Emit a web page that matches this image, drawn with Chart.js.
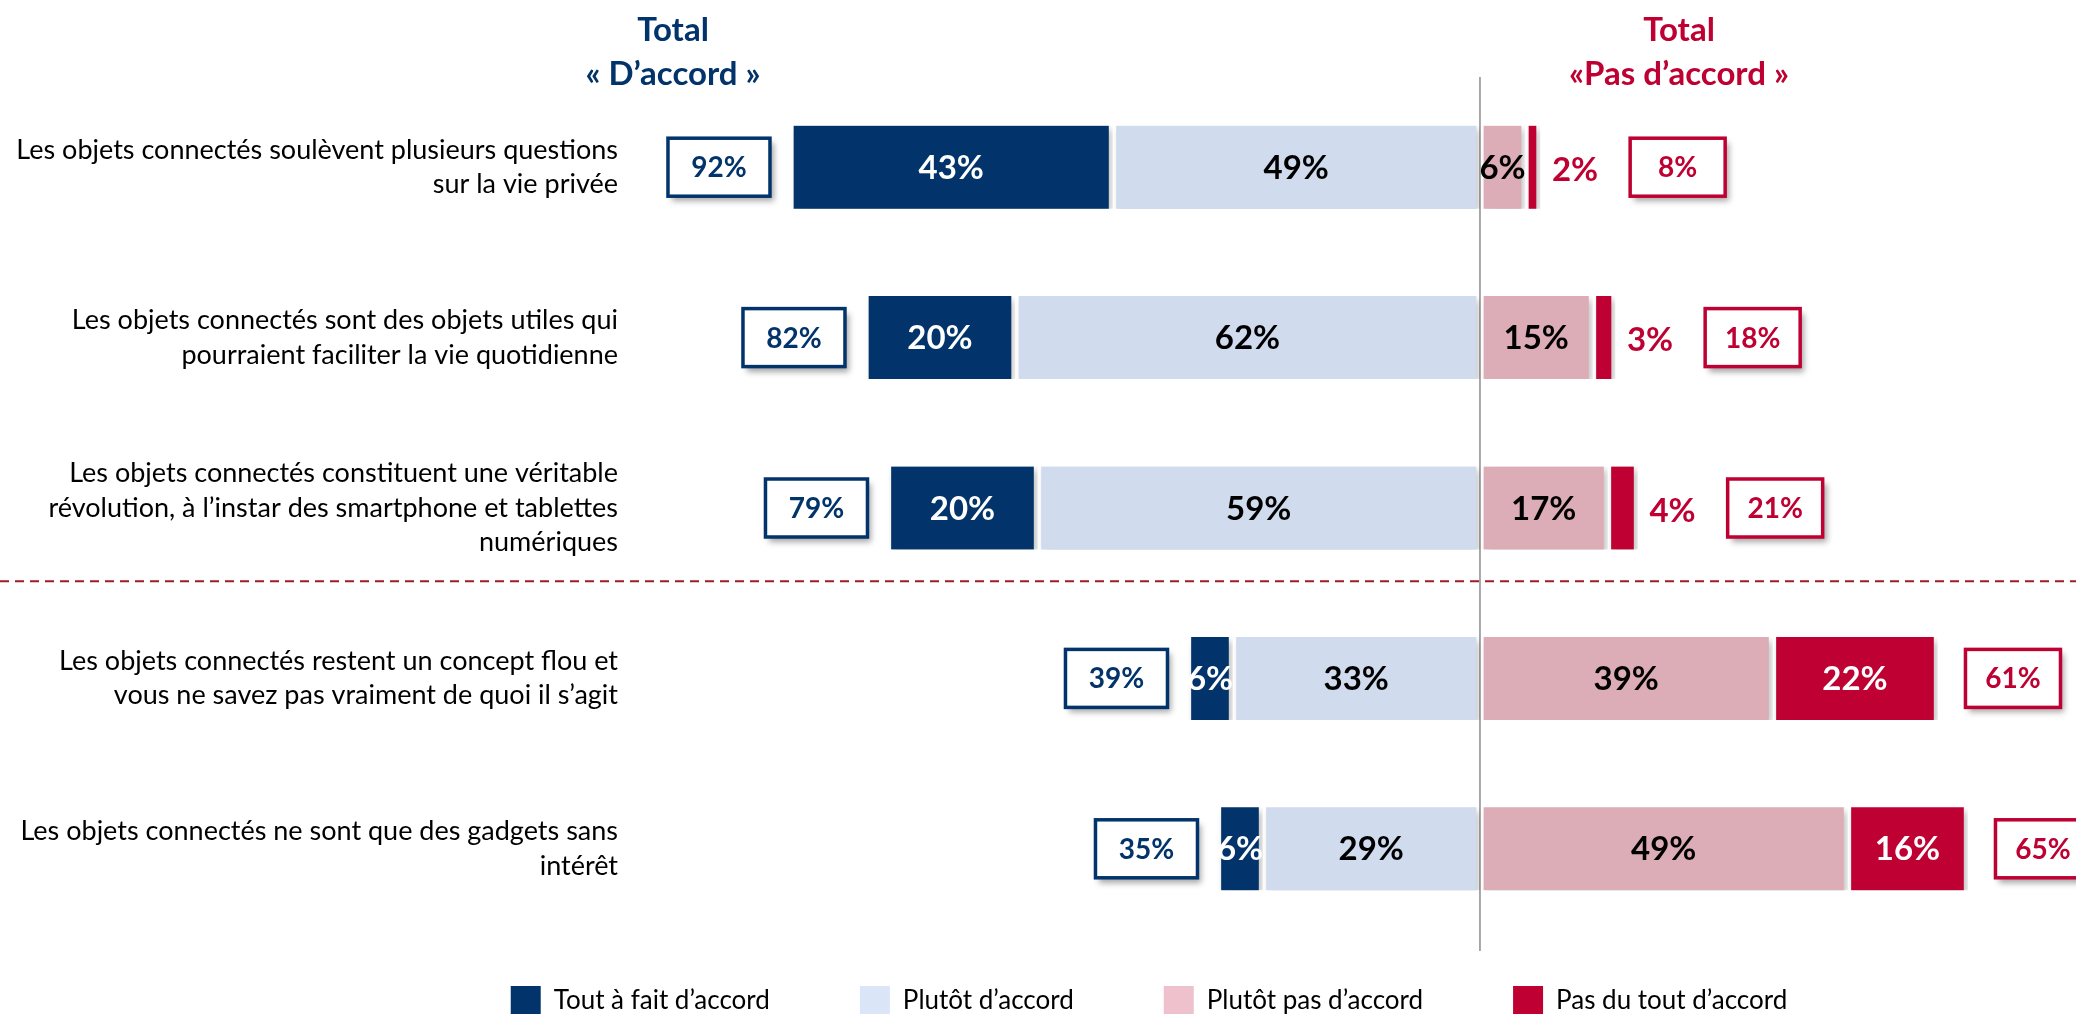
<!DOCTYPE html>
<html lang="fr">
<head>
<meta charset="utf-8">
<title>Objets connectés – accord / désaccord</title>
<script src="https://cdn.jsdelivr.net/npm/chart.js@4.4.1/dist/chart.umd.min.js"></script>
<style>
    html, body { margin: 0; padding: 0; background: #fff; }
    canvas { display: block; }
</style>
</head>
<body>
<canvas id="chart" width="2076" height="1014"></canvas>
<script>
// Statements (y axis)
const categories = [
    ['Les objets connectés soulèvent plusieurs questions', 'sur la vie privée'],
    ['Les objets connectés sont des objets utiles qui', 'pourraient faciliter la vie quotidienne'],
    ['Les objets connectés constituent une véritable', 'révolution, à l’instar des smartphone et tablettes', 'numériques'],
    ['Les objets connectés restent un concept flou et', 'vous ne savez pas vraiment de quoi il s’agit'],
    ['Les objets connectés ne sont que des gadgets sans', 'intérêt']
];

const seriesNames = ['Tout à fait d’accord', 'Plutôt d’accord', 'Plutôt pas d’accord', 'Pas du tout d’accord'];

// Percentages per answer
const toutAFait = [43, 20, 20, 6, 6];
const plutot = [49, 62, 59, 33, 29];
const plutotPas = [6, 15, 17, 39, 49];
const pasDuTout = [2, 3, 4, 22, 16];

// Totals shown in the boxes
const totalAccord = [92, 82, 79, 39, 35];
const totalPasAccord = [8, 18, 21, 61, 65];

const NAVY = '#02346B';
const LIGHT = '#D0DBEE';
const PINK = '#DCADB6';
const CRIMSON = '#BE0032';
const FONT = 'Lato, "Open Sans", sans-serif';

const barColors = [NAVY, LIGHT, PINK, CRIMSON];
const legendColors = [NAVY, '#DAE5F8', '#EFC1CC', CRIMSON];
const labelColors = ['#ffffff', '#000000', '#000000', '#ffffff'];

Chart.defaults.font.family = FONT;

function drawTotalBox(ctx, x, y, w, h, color, text) {
    ctx.save();
    ctx.shadowColor = 'rgba(0,0,0,0.35)';
    ctx.shadowBlur = 6;
    ctx.shadowOffsetX = 4;
    ctx.shadowOffsetY = 5;
    ctx.fillStyle = '#ffffff';
    ctx.fillRect(x, y, w, h);
    ctx.restore();

    ctx.save();
    ctx.lineWidth = 3.5;
    ctx.strokeStyle = color;
    ctx.strokeRect(x, y, w, h);
    ctx.fillStyle = color;
    ctx.font = 'bold 28px ' + FONT;
    ctx.textAlign = 'center';
    ctx.textBaseline = 'middle';
    ctx.fillText(text, x + w / 2, y + h / 2 + 1);
    ctx.restore();
}

const decorations = {
    id: 'decorations',

    // legend: wider item spacing than the default box allows, so move it into place
    afterLayout(chart) {
        const legend = chart.legend;
        if (!legend) return;
        legend.left += 111;
        legend.right += 111;
        legend.top -= 38;
        legend.bottom -= 38;
    },

    beforeDatasetsDraw(chart) {
        const { ctx, scales: { x, y } } = chart;
        const zero = x.getPixelForValue(0);

        // vertical separator at 0
        ctx.save();
        ctx.strokeStyle = '#8c8c8c';
        ctx.lineWidth = 1.5;
        ctx.beginPath();
        ctx.moveTo(zero, 77);
        ctx.lineTo(zero, 951);
        ctx.stroke();

        // dashed line between the two groups of statements
        const sep = (y.getPixelForValue(2) + y.getPixelForValue(3)) / 2 - 12;
        ctx.strokeStyle = '#A01C26';
        ctx.lineWidth = 2;
        ctx.setLineDash([9, 6]);
        ctx.beginPath();
        ctx.moveTo(0, sep);
        ctx.lineTo(chart.width, sep);
        ctx.stroke();
        ctx.restore();

        // soft shadow under the bars
        ctx.save();
        ctx.shadowColor = 'rgba(0,0,0,0.25)';
        ctx.shadowBlur = 7;
        ctx.shadowOffsetX = 3;
        ctx.shadowOffsetY = 4;
    },

    afterDatasetsDraw(chart) {
        const { ctx, scales: { x } } = chart;
        ctx.restore();

        const rightEnds = [];

        ctx.save();
        ctx.font = 'bold 33px ' + FONT;
        ctx.textBaseline = 'middle';
        chart.data.datasets.forEach((ds, di) => {
            const meta = chart.getDatasetMeta(di);
            meta.data.forEach((bar, i) => {
                const v = Math.abs(ds.data[i]);
                const txt = v + '%';
                if (di === 3) {
                    rightEnds[i] = Math.max(bar.x, bar.base) - 4;
                }
                if (di === 3 && v < 5) {
                    const start = Math.max(bar.x, bar.base) + 12;
                    ctx.fillStyle = CRIMSON;
                    ctx.textAlign = 'left';
                    ctx.fillText(txt, start, bar.y + 3);
                    rightEnds[i] = start + ctx.measureText(txt).width;
                } else {
                    ctx.fillStyle = labelColors[di];
                    ctx.textAlign = 'center';
                    ctx.fillText(txt, (bar.x + bar.base) / 2, bar.y + 1);
                }
            });
        });
        ctx.restore();

        // total boxes
        const meta = chart.getDatasetMeta(0);
        meta.data.forEach((bar, i) => {
            const leftEdge = x.getPixelForValue(-totalAccord[i]);
            drawTotalBox(ctx, leftEdge - 20 - 102, bar.y - 29, 102, 58, NAVY, totalAccord[i] + '%');
            drawTotalBox(ctx, rightEnds[i] + 32, bar.y - 29, 95, 58, CRIMSON, totalPasAccord[i] + '%');
        });
    },

    afterDraw(chart) {
        const ctx = chart.ctx;
        ctx.save();
        ctx.font = 'bold 33px ' + FONT;
        ctx.textAlign = 'center';
        ctx.textBaseline = 'middle';
        ctx.fillStyle = NAVY;
        ctx.fillText('Total', 673, 30);
        ctx.fillText('« D’accord »', 673, 74);
        ctx.fillStyle = CRIMSON;
        ctx.fillText('Total', 1679, 30);
        ctx.fillText('«Pas d’accord »', 1679, 74);
        ctx.restore();
    }
};

const seriesValues = [
    toutAFait.map(v => -v),
    plutot.map(v => -v),
    plutotPas,
    pasDuTout
];
// stacking order outward from 0: light blue, navy | pink, crimson
const stackOrder = [1, 0, 2, 3];

new Chart(document.getElementById('chart'), {
    type: 'bar',
    data: {
        labels: categories,
        datasets: seriesNames.map((name, i) => ({
            label: name,
            data: seriesValues[i],
            order: stackOrder[i],
            backgroundColor: barColors[i],
            borderColor: 'rgba(0,0,0,0)',
            borderWidth: { left: 4, right: 4, top: 0, bottom: 0 },
            borderSkipped: false,
            barThickness: 83
        }))
    },
    options: {
        indexAxis: 'y',
        responsive: false,
        animation: false,
        layout: {
            padding: { top: 82, left: 0, right: 0, bottom: -50 }
        },
        scales: {
            x: {
                display: false,
                stacked: true,
                min: -113.33,
                max: 79.47
            },
            y: {
                stacked: true,
                grid: { display: false, drawTicks: false },
                border: { display: false },
                ticks: {
                    color: '#000000',
                    padding: 12,
                    autoSkip: false,
                    font: { size: 27, lineHeight: 1.28 }
                },
                afterFit(scale) {
                    scale.width = 630;
                }
            }
        },
        plugins: {
            tooltip: { enabled: false },
            legend: {
                position: 'bottom',
                labels: {
                    boxWidth: 30,
                    boxHeight: 30,
                    padding: 90,
                    color: '#000000',
                    font: { size: 26 },
                    generateLabels: () => seriesNames.map((name, i) => ({
                        text: name,
                        fillStyle: legendColors[i],
                        strokeStyle: legendColors[i],
                        lineWidth: 0,
                        hidden: false,
                        datasetIndex: i
                    }))
                }
            }
        }
    },
    plugins: [decorations]
});
</script>
</body>
</html>
